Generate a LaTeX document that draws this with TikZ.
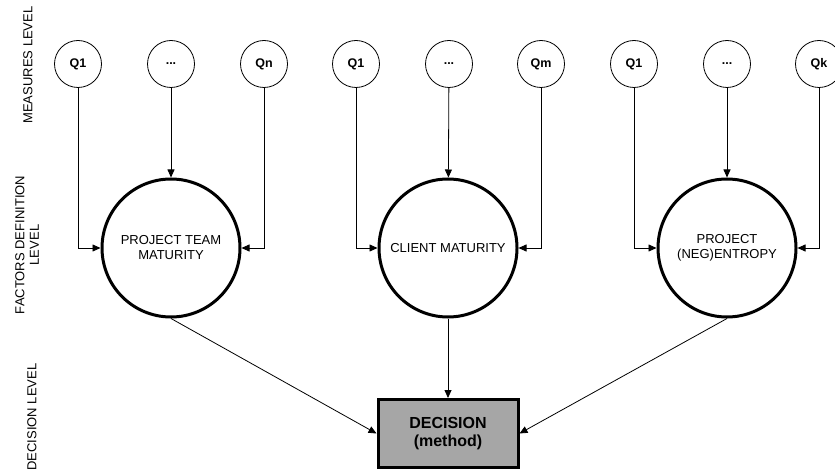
\documentclass[tikz,border=0pt]{standalone}
\usepackage{fontspec}
\setmainfont{Liberation Sans}
\usetikzlibrary{arrows.meta}
\definecolor{boxgray}{HTML}{A6A6A6}

\begin{document}
\begin{tikzpicture}[x=1pt,y=-1pt,
  measure/.style={draw,circle,minimum size=47pt,inner sep=0pt,line width=0.8pt,font=\fontsize{12.5}{14}\selectfont\bfseries},
  factor/.style={draw,circle,minimum size=138pt,inner sep=0pt,line width=3pt,align=center,font=\fontsize{13}{15}\selectfont},
  levellabel/.style={rotate=90,align=center,font=\fontsize{13}{14.5}\selectfont},
  arr/.style={line width=0.8pt,-{Triangle[length=8pt,width=7pt]}}]
\useasboundingbox(0,0)rectangle(835,470);
\node[levellabel](measures)at(28,65){MEASURES LEVEL};
\node[levellabel](factors)at(27,245){FACTORS DEFINITION\\LEVEL};
\node[levellabel](decisionlevel)at(32,417){DECISION LEVEL};
\node[measure](q1a)at(78,64){Q1};
\node[measure](dotsa)at(171,64){...};
\node[measure](qn)at(264,64){Qn};
\node[measure](q1b)at(356,64){Q1};
\node[measure](dotsb)at(449,64){...};
\node[measure](qm)at(541,64){Qm};
\node[measure](q1c)at(634,64){Q1};
\node[measure](dotsc)at(727,64){...};
\node[measure](qk)at(819,64){Qk};
\node[factor](team)at(171,248){PROJECT TEAM\\MATURITY};
\node[factor](client)at(448,248){CLIENT MATURITY};
\node[factor](entropy)at(727,248){PROJECT\\(NEG)ENTROPY};
\node[draw,line width=3pt,fill=boxgray,minimum width=140pt,minimum height=68pt,inner sep=0pt,align=center,font=\fontsize{16}{18}\selectfont\bfseries](decision)at(448,433.5){DECISION\\(method)};
\draw[arr](q1a)|-(team);
\draw[arr](dotsa)--(team);
\draw[arr](qn)|-(team);
\draw[arr](q1b)|-(client);
\draw[arr](dotsb)--(client);
\draw[arr](qm)|-(client);
\draw[arr](q1c)|-(entropy);
\draw[arr](dotsc)--(entropy);
\draw[arr](qk)|-(entropy);
\draw[arr](team.south)--(decision.west);
\draw[arr](client)--(decision);
\draw[arr](entropy.south)--(decision.east);
\end{tikzpicture}
\end{document}
